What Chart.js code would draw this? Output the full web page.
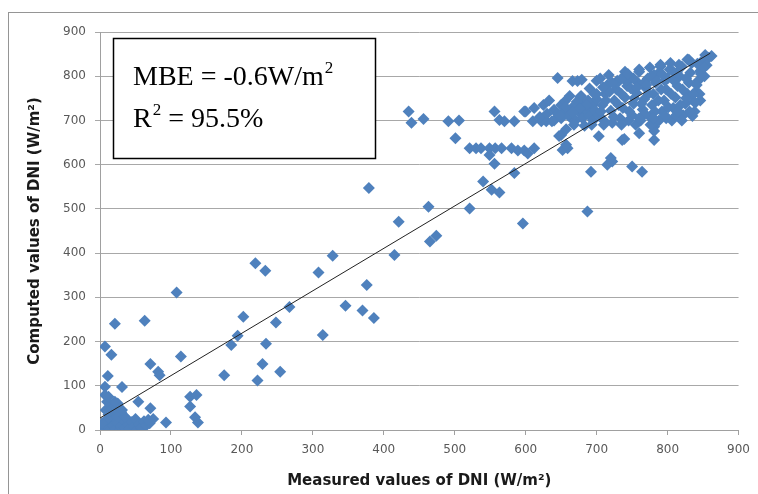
<!DOCTYPE html>
<html>
<head>
<meta charset="utf-8">
<script src="https://cdn.jsdelivr.net/npm/chart.js@4.4.0/dist/chart.umd.min.js"></script>
<style>
html,body{margin:0;padding:0;background:#fff;}
#wrap{width:758px;height:494px;position:relative;}
</style>
</head>
<body>
<div id="wrap"><canvas id="c" width="758" height="494"></canvas></div>
<script>
// Measured DNI (x) and computed DNI (y), W/m²
const measured = [
  0,2,4,5,7,8,10,12,14,15,18,20,22,25,27,28,30,33,35,38,40,42,45,48,50,52,55,58,62,65,70,75,20,25,15,30,12,8,18,25,10,35,3,
  7,16,11,7,31,71,82,84,114,7,10,21,54,71,31,12,127,136,127,134,138,93,68,21,63,108,12,
  175,185,194,202,219,233,222,229,234,248,254,267,308,328,314,346,370,376,386,415,379,
  435,439,456,491,506,501,556,563,570,584,598,610,622,629,637,640,650,655,
  521,530,537,549,557,566,580,589,598,612,603,
  463,465,474,421,521,540,552,563,584,596,556,549,687,
  647,650,659,652,657,664,692,715,722,750,764,736,760,781,781,781,703,739,720,781,
  645,666,673,679,717,678,680,692,677,662,
  600,612,625,633,620,630,640,645,650,655,660,665,670,675,680,685,690,695,688,672,700,698,657,668,683,695,
  703,708,712,715,720,725,728,729,733,737,740,743,748,750,752,756,758,762,765,767,770,772,710,722,745,755,
  775,778,780,783,786,790,792,795,798,800,803,806,808,811,814,817,820,822,825,828,830,832,834,798,812,788,776,
  837,846,840,843,846,849,853,858,862,838,845,852,855,835,842,828,
  700,690,705,740,760,775,790,804,816,830,729,748,767,781,
  700,706,713,718,724,731,735,741,746,753,757,763,768,773,777,782,787,791,796,801,805,809,813,818,821,826,831,836,841,847,851,839,826,815,797,785,770,752,735,722,709,697,686,676,666,656,648,693,710,735,760,780,820,808,792,760,744
];
const computed = [
  0,3,1,8,0,2,15,5,0,20,10,28,3,15,0,35,8,20,5,25,12,2,18,8,25,0,12,5,20,10,15,25,50,60,55,40,35,45,42,30,25,30,15,
  189,170,122,98,97,149,132,124,166,79,64,64,64,49,45,41,75,79,53,29,17,17,23,240,247,311,75,
  124,192,213,256,377,360,112,149,195,243,132,278,356,394,215,281,270,328,253,396,547,
  720,695,703,698,700,660,720,701,698,698,720,698,698,698,698,724,735,743,
  637,637,637,637,637,637,637,632,632,637,625,
  505,426,439,471,501,562,543,537,581,467,602,622,494,
  665,667,637,633,645,705,584,600,607,596,584,656,671,686,656,676,664,658,615,694,
  796,789,789,792,803,755,739,732,753,755,
  720,728,735,745,708,715,700,715,705,720,712,728,700,718,705,722,710,735,745,742,748,722,680,690,688,700,
  712,735,760,780,722,745,770,790,705,728,752,778,795,712,738,762,785,700,725,748,772,795,700,695,700,690,
  708,735,760,785,805,822,720,745,770,795,815,700,728,752,778,800,822,712,738,760,785,808,830,705,712,700,690,
  743,745,765,790,812,835,848,842,846,720,760,800,825,710,828,838,
  790,772,795,810,810,820,826,830,826,837,785,773,785,803,
  760,720,745,765,708,735,760,790,720,750,775,738,715,760,800,720,745,770,790,730,760,790,808,735,770,795,720,760,780,805,820,740,750,720,710,790,780,795,795,785,775,760,735,727,718,730,712,690,690,690,705,705,700,810,805,815,805
];
// Linear trendline end points
const trendX = [0, 860];
const trendY = [27, 852];
const tickValues = [0,100,200,300,400,500,600,700,800,900];
const statLines = [["MBE = -0.6W/m", "2", ""], ["R", "2", " = 95.5%"]];

const points = measured.map((x, i) => ({x: x, y: computed[i]}));
const trend = trendX.map((x, i) => ({x: x, y: trendY[i]}));

const framePlugin = {
  id: 'frame',
  beforeDraw(chart) {
    const ctx = chart.ctx;
    ctx.save();
    ctx.strokeStyle = '#959595';
    ctx.lineWidth = 1;
    ctx.strokeRect(8.5, 12.5, 900, 700);
    ctx.restore();
  },
  afterDraw(chart) {
    const ctx = chart.ctx;
    ctx.save();
    ctx.fillStyle = '#ffffff';
    ctx.fillRect(113, 38, 262, 120);
    ctx.strokeStyle = '#000000';
    ctx.lineWidth = 1.5;
    ctx.strokeRect(113.5, 38.5, 262, 120);
    ctx.fillStyle = '#000000';
    ctx.textBaseline = 'alphabetic';
    const baselines = [85, 127];
    statLines.forEach((ln, i) => {
      let x = 133;
      const y = baselines[i];
      ctx.font = '28px "Liberation Serif", "Times New Roman", serif';
      ctx.fillText(ln[0], x, y);
      x += ctx.measureText(ln[0]).width;
      ctx.font = '17px "Liberation Serif", "Times New Roman", serif';
      ctx.fillText(ln[1], x + 1, y - 12);
      x += ctx.measureText(ln[1]).width + 1;
      ctx.font = '28px "Liberation Serif", "Times New Roman", serif';
      ctx.fillText(ln[2], x, y);
    });
    ctx.restore();
  }
};

new Chart(document.getElementById('c'), {
  type: 'scatter',
  data: {
    datasets: [
      {
        type: 'line',
        data: trend,
        borderColor: '#222222',
        borderWidth: 1,
        pointRadius: 0,
        fill: false,
        order: 0
      },
      {
        data: points,
        backgroundColor: '#4F81BD',
        borderWidth: 0,
        pointStyle: 'rectRot',
        pointRadius: 6,
        order: 1
      }
    ]
  },
  options: {
    responsive: false,
    animation: false,
    layout: {padding: {left: 0, right: 16, top: 32, bottom: 0}},
    plugins: {legend: {display: false}, tooltip: {enabled: false}},
    scales: {
      x: {
        type: 'linear',
        min: 0, max: 900,
        afterBuildTicks: (s) => { s.ticks = tickValues.map(v => ({value: v})); },
        afterFit: (s) => { s.height = 64; },
        grid: {drawOnChartArea: false, drawTicks: true, tickLength: 5, color: '#a0a0a0'},
        border: {display: true, color: '#a0a0a0'},
        ticks: {color: '#595959', font: {family: '"DejaVu Sans", sans-serif', size: 12}, padding: 8, maxRotation: 0},
        title: {display: true, text: 'Measured values of DNI (W/m²)', color: '#1a1a1a',
                font: {family: '"DejaVu Sans", sans-serif', size: 15, weight: 'bold'}, padding: {top: 0, bottom: 4}}
      },
      y: {
        type: 'linear',
        min: 0, max: 900,
        afterBuildTicks: (s) => { s.ticks = tickValues.map(v => ({value: v})); },
        afterFit: (s) => { s.width = 100; },
        grid: {drawOnChartArea: true, drawTicks: true, tickLength: 5, color: '#a8a8a8'},
        border: {display: true, color: '#a0a0a0'},
        ticks: {color: '#595959', font: {family: '"DejaVu Sans", sans-serif', size: 12}, padding: 9},
        title: {display: true, text: 'Computed values of DNI (W/m²)', color: '#1a1a1a',
                font: {family: '"DejaVu Sans", sans-serif', size: 15, weight: 'bold'}, padding: {top: 26, bottom: 0}}
      }
    }
  },
  plugins: [framePlugin]
});
</script>
</body>
</html>
